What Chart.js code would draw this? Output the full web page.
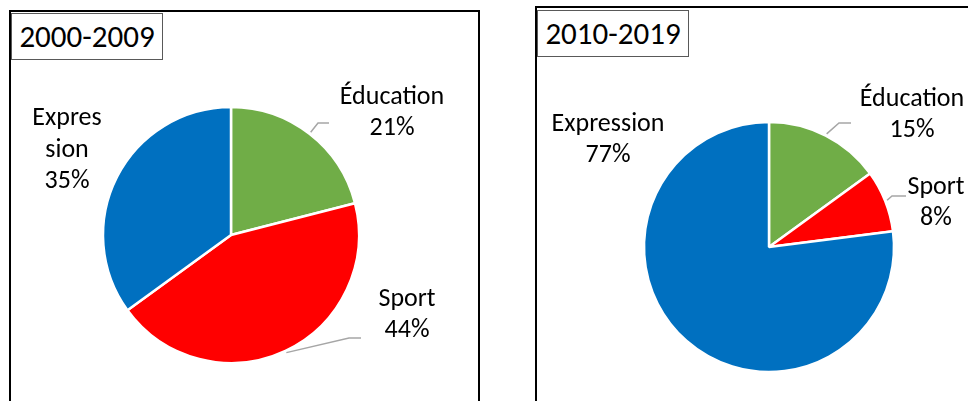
<!DOCTYPE html>
<html>
<head>
<meta charset="utf-8">
<script src="https://cdn.jsdelivr.net/npm/chart.js@4"></script>
<style>
  html, body { margin: 0; padding: 0; background: #fff; }
  body { width: 968px; height: 401px; position: relative; overflow: hidden; font-family: Carlito, Lato, sans-serif; }
  .panel { position: absolute; border: 2px solid #000; background: #fff; }
  .title {
    position: absolute; border: 1px solid #595959; background: #fff;
    font-size: 31px; line-height: 44px; text-align: center; color: #000;
  }
  canvas { position: absolute; top: 0; }
</style>
</head>
<body>
<div class="panel" style="left:9px; top:10px; width:467px; height:400px;"></div>
<div class="panel" style="left:535px; top:6px; width:440px; height:400px;"></div>
<div class="title" style="left:11px; top:13px; width:150px; height:45px;">2000-2009</div>
<div class="title" style="left:537px; top:10px; width:150px; height:45px;">2010-2019</div>
<div style="position:absolute; left:0; top:0; width:484px; height:401px;"><canvas id="chart2000"></canvas></div>
<div style="position:absolute; left:484px; top:0; width:484px; height:401px;"><canvas id="chart2010"></canvas></div>

<script>
// Share of each domain, clockwise from twelve o'clock
const categories = ['Éducation', 'Sport', 'Expression'];
const share2000 = [21, 44, 35];
const share2010 = [15, 8, 77];
const sliceColors = ['#70AD47', '#FF0000', '#0070C0'];

const labelFont = '26px Carlito, Lato, sans-serif';

// Label placement, offsets from the pie centre (leader: elbow x/y and end x)
const labels2000 = [
    { dx: 161, dy: -122, leader: { ex: 87, ey: -112, hx: 98 } },
    { dx: 176, dy: 80, leader: { ex: 118, ey: 103, hx: 130 } },
    { dx: -164, dy: -85, breakAt: 6 }
];
const labels2010 = [
    { dx: 143, dy: -132, leader: { ex: 70, ey: -124, hx: 82 } },
    { dx: 167, dy: -44, leader: { ex: 123, ey: -51, hx: 137 } },
    { dx: -161, dy: -107 }
];

const pieLabels = {
    id: 'pieLabels',
    afterDatasetsDraw(chart, args, opts) {
        const ctx = chart.ctx;
        const meta = chart.getDatasetMeta(0);
        const values = chart.data.datasets[0].data;
        ctx.save();
        meta.data.forEach((arc, i) => {
            const place = opts.layout[i];
            const { x, y, outerRadius, startAngle, endAngle } = arc.getProps(['x', 'y', 'outerRadius', 'startAngle', 'endAngle'], true);
            if (place.leader) {
                const mid = (startAngle + endAngle) / 2;
                ctx.strokeStyle = '#A6A6A6';
                ctx.lineWidth = 1.5;
                ctx.beginPath();
                ctx.moveTo(x + Math.cos(mid) * (outerRadius + 2), y + Math.sin(mid) * (outerRadius + 2));
                ctx.lineTo(x + place.leader.ex, y + place.leader.ey);
                ctx.lineTo(x + place.leader.hx, y + place.leader.ey);
                ctx.stroke();
            }
            const name = chart.data.labels[i];
            const lines = place.breakAt
                ? [name.slice(0, place.breakAt), name.slice(place.breakAt)]
                : [name];
            lines.push(values[i] + '%');
            const lh = 31.5;
            const top = y + place.dy - (lines.length - 1) * lh / 2;
            ctx.fillStyle = '#000';
            ctx.font = labelFont;
            ctx.textAlign = 'center';
            ctx.textBaseline = 'middle';
            lines.forEach((t, k) => ctx.fillText(t, x + place.dx, top + k * lh));
        });
        ctx.restore();
    }
};

function makePie(id, values, radius, padding, layout) {
    return new Chart(document.getElementById(id), {
        type: 'pie',
        data: {
            labels: categories,
            datasets: [{
                data: values,
                backgroundColor: sliceColors,
                borderColor: '#ffffff',
                borderWidth: 2.5,
                hoverOffset: 0,
                radius: radius
            }]
        },
        options: {
            responsive: true,
            maintainAspectRatio: false,
            animation: false,
            events: [],
            layout: { padding: padding },
            plugins: {
                legend: { display: false },
                tooltip: { enabled: false },
                pieLabels: { layout: layout }
            }
        },
        plugins: [pieLabels]
    });
}

makePie('chart2000', share2000, 128, { left: 103, right: 125, top: 107, bottom: 38 }, labels2000);
makePie('chart2010', share2010, 125, { left: 160, right: 74, top: 122, bottom: 29 }, labels2010);
</script>
</body>
</html>
